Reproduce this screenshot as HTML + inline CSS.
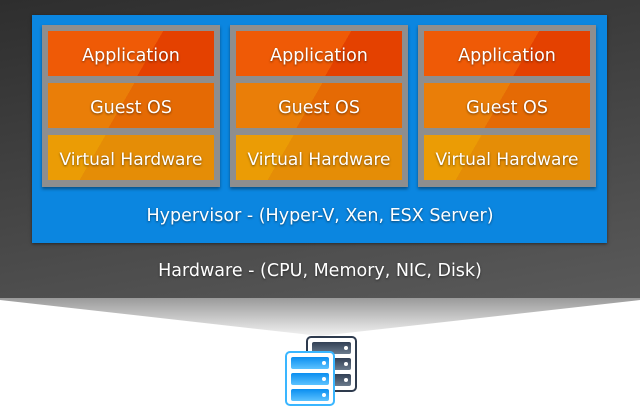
<!DOCTYPE html>
<html><head><style>
body{margin:0;width:640px;height:408px;background:#fff;position:relative;overflow:hidden;font-family:"DejaVu Sans","Liberation Sans",sans-serif;}
.dark{position:absolute;left:0;top:0;width:640px;height:298px;background:linear-gradient(170deg,#2e2e2e 0%,#444 50%,#5a5a5a 100%);}
.funnel{position:absolute;left:0;top:298px;width:640px;height:40px;}
.blue{position:absolute;left:32px;top:15px;width:575px;height:228px;background:#0b86e0;box-shadow:0 1px 3px rgba(0,0,0,.5);}
.panel{position:absolute;top:25px;width:178px;height:162px;background:#8e8e8e;box-shadow:0 2px 3px rgba(0,0,0,.4);}
.b{position:absolute;left:6px;width:166px;height:45px;color:#fff;font-size:17.5px;text-align:center;line-height:50px;text-shadow:0 1px 2px rgba(0,0,0,.5);white-space:nowrap;overflow:hidden;}
.a{top:6px;background:linear-gradient(120deg,#ef5a06 60%,#e44100 60%);}
.g{top:58px;background:linear-gradient(120deg,#ea7e08 45%,#e56a04 45%);}
.v{top:110px;background:linear-gradient(120deg,#eb9c05 30%,#e58d06 30%);font-size:17px;}
.t{position:absolute;width:640px;text-align:center;color:#fff;font-size:17.5px;text-shadow:0 1px 2px rgba(0,0,0,.5);}
</style></head><body>
<div class="dark"></div>
<svg class="funnel" width="640" height="40"><defs><linearGradient id="f" x1="0" y1="0" x2="0" y2="1"><stop offset="0" stop-color="#9a9a9a"/><stop offset="1" stop-color="#f2f2f2"/></linearGradient></defs><polygon points="0,0 640,0 640,2 320,38 0,2" fill="url(#f)"/></svg>
<div class="blue"></div>
<div class="panel" style="left:42px"><div class="b a">Application</div><div class="b g">Guest OS</div><div class="b v">Virtual Hardware</div></div>
<div class="panel" style="left:230px"><div class="b a">Application</div><div class="b g">Guest OS</div><div class="b v">Virtual Hardware</div></div>
<div class="panel" style="left:418px"><div class="b a">Application</div><div class="b g">Guest OS</div><div class="b v">Virtual Hardware</div></div>
<div class="t" style="top:206px">Hypervisor - (Hyper-V, Xen, ESX Server)</div>
<div class="t" style="top:261px">Hardware - (CPU, Memory, NIC, Disk)</div>
<svg style="position:absolute;left:280px;top:334px" width="84" height="74">
<defs><linearGradient id="d" x1="0" y1="0" x2="0" y2="1"><stop offset="0" stop-color="#324055"/><stop offset="1" stop-color="#6a7a8c"/></linearGradient>
<linearGradient id="l" x1="0" y1="0" x2="0" y2="1"><stop offset="0" stop-color="#0a8ef0"/><stop offset="1" stop-color="#5cc2ff"/></linearGradient></defs>
<rect x="27" y="3" width="49" height="54" rx="4" fill="#fff" stroke="#2e3b4e" stroke-width="2"/>
<rect x="32" y="8" width="39" height="12" rx="2" fill="url(#d)"/><rect x="32" y="24" width="39" height="12" rx="2" fill="url(#d)"/><rect x="32" y="40" width="39" height="12" rx="2" fill="url(#d)"/>
<circle cx="66" cy="14" r="2" fill="#fff"/><circle cx="66" cy="30" r="2" fill="#fff"/><circle cx="66" cy="46" r="2" fill="#fff"/>
<rect x="6" y="18" width="48" height="53" rx="4" fill="#fff" stroke="#3ab6ff" stroke-width="2"/>
<rect x="11" y="23" width="38" height="12" rx="2" fill="url(#l)"/><rect x="11" y="39" width="38" height="12" rx="2" fill="url(#l)"/><rect x="11" y="55" width="38" height="12" rx="2" fill="url(#l)"/>
<circle cx="44" cy="29" r="2" fill="#fff"/><circle cx="44" cy="45" r="2" fill="#fff"/><circle cx="44" cy="61" r="2" fill="#fff"/>
</svg>
</body></html>
